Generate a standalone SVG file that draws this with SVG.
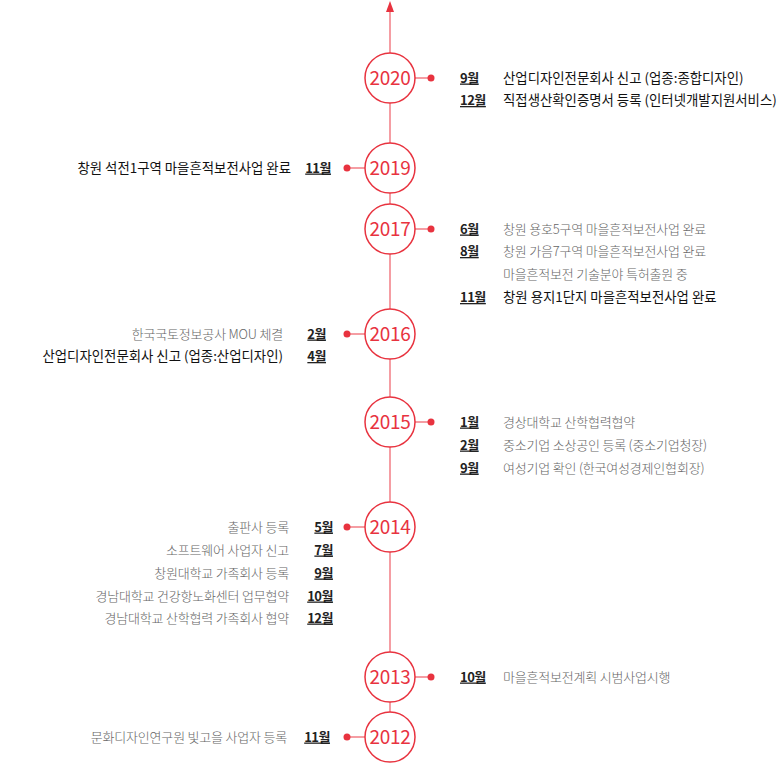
<svg xmlns="http://www.w3.org/2000/svg" width="783" height="782" viewBox="0 0 783 782">
<style>
.bg{fill:#ffffff}
.axis{stroke:#f27c85;stroke-width:1.5;fill:none}
.tick{stroke:#f27c85;stroke-width:1.5}
.dot{fill:#e8333f}
.yr circle{fill:#ffffff;stroke:#e8333f;stroke-width:1.5}
.yr text{font-family:"Noto Sans CJK KR","Noto Sans",sans-serif;font-size:19px;font-weight:400;fill:#e8333f;text-anchor:middle;letter-spacing:-0.3px}
text{font-family:"Noto Sans CJK KR","Noto Sans",sans-serif;font-size:13px}
.m{fill:#222;font-weight:700;text-decoration:underline;letter-spacing:-0.5px}
.g{fill:#666;font-weight:300;letter-spacing:-0.2px}
.k{fill:#111;font-weight:400;font-size:13.4px;letter-spacing:0px}
.r{text-anchor:end}
</style>
<rect class="bg" x="0" y="0" width="783" height="782"/>
<g id="connectors">
<line class="axis" x1="390" y1="737" x2="390" y2="11"/>
<path d="M386,12 L390,1 L394,12 Z" fill="#e8333f"/>
<line class="tick" x1="415" y1="78" x2="431" y2="78"/>
<line class="tick" x1="347" y1="168" x2="365" y2="168"/>
<line class="tick" x1="415" y1="229" x2="431" y2="229"/>
<line class="tick" x1="347" y1="334" x2="365" y2="334"/>
<line class="tick" x1="415" y1="422" x2="431" y2="422"/>
<line class="tick" x1="347" y1="527" x2="365" y2="527"/>
<line class="tick" x1="415" y1="677" x2="431" y2="677"/>
<line class="tick" x1="347" y1="737" x2="365" y2="737"/>
<circle class="dot" cx="431" cy="78" r="3.5"/>
<circle class="dot" cx="347" cy="168" r="3.5"/>
<circle class="dot" cx="431" cy="229" r="3.5"/>
<circle class="dot" cx="347" cy="334" r="3.5"/>
<circle class="dot" cx="431" cy="422" r="3.5"/>
<circle class="dot" cx="347" cy="527" r="3.5"/>
<circle class="dot" cx="431" cy="677" r="3.5"/>
<circle class="dot" cx="347" cy="737" r="3.5"/>
</g>
<g id="y2020" class="yr"><circle cx="390" cy="78" r="25"/><text x="390" y="84.5">2020</text></g>
<g id="y2019" class="yr"><circle cx="390" cy="168" r="25"/><text x="390" y="174.5">2019</text></g>
<g id="y2017" class="yr"><circle cx="390" cy="229" r="25"/><text x="390" y="235.5">2017</text></g>
<g id="y2016" class="yr"><circle cx="390" cy="334" r="25"/><text x="390" y="340.5">2016</text></g>
<g id="y2015" class="yr"><circle cx="390" cy="422" r="25"/><text x="390" y="428.5">2015</text></g>
<g id="y2014" class="yr"><circle cx="390" cy="527" r="25"/><text x="390" y="533.5">2014</text></g>
<g id="y2013" class="yr"><circle cx="390" cy="677" r="25"/><text x="390" y="683.5">2013</text></g>
<g id="y2012" class="yr"><circle cx="390" cy="737" r="25"/><text x="390" y="743.5">2012</text></g>
<g id="e2020">
<text class="m" x="460" y="82.5">9월</text><text class="k" x="503" y="82.5">산업디자인전문회사 신고 (업종:종합디자인)</text>
<text class="m" x="460" y="105">12월</text><text class="k" x="503" y="105">직접생산확인증명서 등록 (인터넷개발지원서비스)</text>
</g>
<g id="e2019">
<text class="m r" x="331" y="172.5">11월</text><text class="k r" x="291" y="172.5">창원 석전1구역 마을흔적보전사업 완료</text>
</g>
<g id="e2017">
<text class="m" x="460" y="233.5">6월</text><text class="g" x="503" y="233.5">창원 용호5구역 마을흔적보전사업 완료</text>
<text class="m" x="460" y="256">8월</text><text class="g" x="503" y="256">창원 가음7구역 마을흔적보전사업 완료</text>
<text class="g" x="503" y="279">마을흔적보전 기술분야 특허출원 중</text>
<text class="m" x="460" y="302">11월</text><text class="k" x="503" y="302">창원 용지1단지 마을흔적보전사업 완료</text>
</g>
<g id="e2016">
<text class="m r" x="326" y="338.5">2월</text><text class="g r" x="283" y="338.5">한국국토정보공사 MOU 체결</text>
<text class="m r" x="326" y="361">4월</text><text class="k r" x="283" y="361">산업디자인전문회사 신고 (업종:산업디자인)</text>
</g>
<g id="e2015">
<text class="m" x="460" y="426.5">1월</text><text class="g" x="503" y="426.5">경상대학교 산학협력협약</text>
<text class="m" x="460" y="449.5">2월</text><text class="g" x="503" y="449.5">중소기업 소상공인 등록 (중소기업청장)</text>
<text class="m" x="460" y="472.5">9월</text><text class="g" x="503" y="472.5">여성기업 확인 (한국여성경제인협회장)</text>
</g>
<g id="e2014">
<text class="m r" x="333" y="531.5">5월</text><text class="g r" x="289" y="531.5">출판사 등록</text>
<text class="m r" x="333" y="554.5">7월</text><text class="g r" x="289" y="554.5">소프트웨어 사업자 신고</text>
<text class="m r" x="333" y="577.5">9월</text><text class="g r" x="289" y="577.5">창원대학교 가족회사 등록</text>
<text class="m r" x="333" y="600.5">10월</text><text class="g r" x="289" y="600.5">경남대학교 건강항노화센터 업무협약</text>
<text class="m r" x="333" y="622.5">12월</text><text class="g r" x="289" y="622.5">경남대학교 산학협력 가족회사 협약</text>
</g>
<g id="e2013">
<text class="m" x="460" y="681.5">10월</text><text class="g" x="503" y="681.5">마을흔적보전계획 시범사업시행</text>
</g>
<g id="e2012">
<text class="m r" x="330" y="741.5">11월</text><text class="g r" x="287" y="741.5">문화디자인연구원 빛고을 사업자 등록</text>
</g>
</svg>
